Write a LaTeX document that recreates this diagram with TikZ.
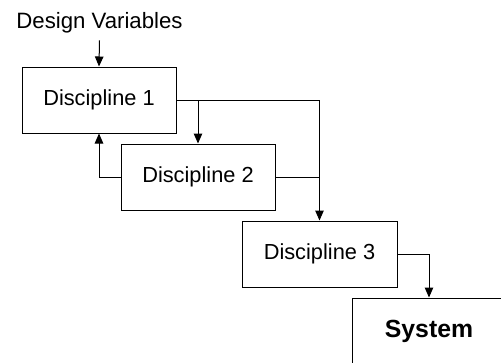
\documentclass[tikz,border=0pt]{standalone}
\usepackage{fontspec}
\setmainfont{Liberation Sans}
\usetikzlibrary{arrows.meta}

\tikzset{
	disc/.style={draw, line width=1pt, minimum width=154pt, minimum height=66pt, inner sep=0pt, font=\fontsize{21.8}{24}\selectfont},
	flow/.style={line width=1pt, -{Triangle[length=10pt,width=8.5pt]}}
}

\begin{document}
\begin{tikzpicture}[x=1pt,y=-1pt]

	\clip (0,0) rectangle (501,362); % page frame

	\node[anchor=base, inner sep=7.5pt, font=\fontsize{22.2}{24}\selectfont] (dv) at (99.5,28) {Design Variables};

	\node[disc] (d1) at (99,100) {Discipline 1};
	\node[disc] (d2) at (198,177) {Discipline 2};
	\node[disc, minimum width=155pt] (d3) at (319.5,254) {Discipline 3};
	\node[disc, font=\fontsize{24.8}{28}\selectfont\bfseries] (sys) at (429,331) {System}; % cut by the frame

	\draw[flow] (dv.south) -- (d1.north);
	\draw[flow] (d1.east) -| (d3.north); % feed forward
	\draw[flow] (d1.east -| d2.north) -- (d2.north);
	\draw[line width=1pt] (d2.east) -- (d2.east -| d3.north);
	\draw[flow] (d2.west) -| (d1.south); % feed back
	\draw[flow] (d3.east) -| (sys.north);

\end{tikzpicture}
\end{document}
